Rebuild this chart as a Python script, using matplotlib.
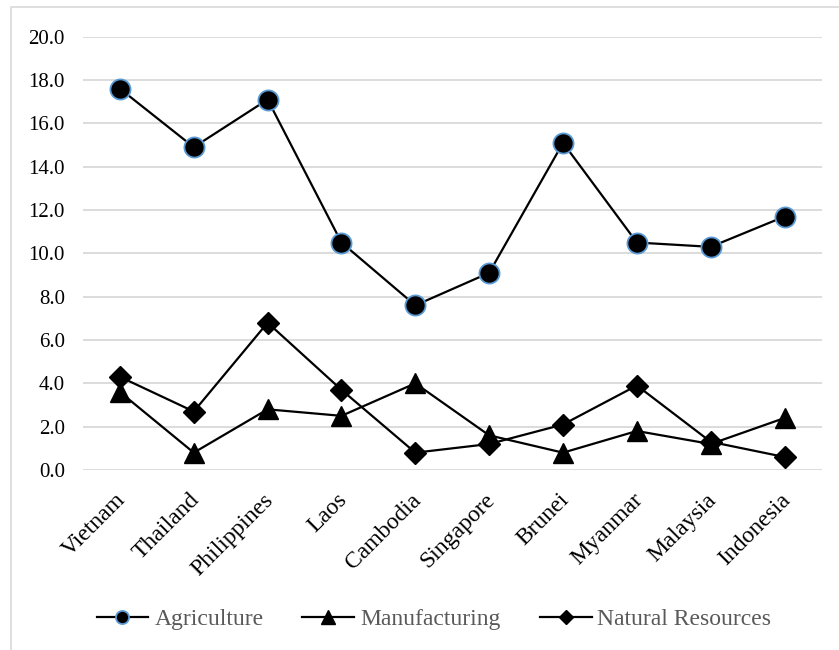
import matplotlib
matplotlib.use("Agg")
import matplotlib.pyplot as plt
import matplotlib.transforms as mtransforms
from matplotlib.patches import Rectangle

countries = ["Vietnam", "Thailand", "Philippines", "Laos", "Cambodia",
             "Singapore", "Brunei", "Myanmar", "Malaysia", "Indonesia"]
agriculture = [17.6, 14.9, 17.1, 10.5, 7.6, 9.1, 15.1, 10.5, 10.3, 11.7]
manufacturing = [3.6, 0.8, 2.8, 2.5, 4.0, 1.6, 0.8, 1.8, 1.2, 2.4]
natural_resources = [4.3, 2.7, 6.8, 3.7, 0.8, 1.2, 2.1, 3.9, 1.3, 0.6]
yticks = [0, 2, 4, 6, 8, 10, 12, 14, 16, 18, 20]

plt.rcParams['font.family'] = ['Liberation Serif', 'DejaVu Serif']

W, H = 839, 650
fig = plt.figure(figsize=(W / 100, H / 100), dpi=100)
ax = fig.add_axes([83 / W, 1 - 470 / H, (821.5 - 83) / W, (470 - 36.7) / H])

# outer chart border
fig.patches.append(Rectangle((11 / W, -0.1), 1.2, 1 - 7 / H + 0.1, transform=fig.transFigure,
                             fill=False, edgecolor="#d9d9d9", linewidth=1.2, zorder=0))

x = list(range(len(countries)))
ax.plot(x, agriculture, color="black", lw=1.6, marker="o", ms=14.5,
        mfc="black", mec="#5b9bd5", mew=1.3, label="Agriculture", clip_on=False, zorder=3)
ax.plot(x, manufacturing, color="black", lw=1.6, marker="^", ms=15,
        mfc="black", mec="black", label="Manufacturing", clip_on=False, zorder=3)
ax.plot(x, natural_resources, color="black", lw=1.6, marker="D", ms=11.5,
        mfc="black", mec="black", label="Natural Resources", clip_on=False, zorder=3)

ax.set_xlim(-0.5, len(countries) - 0.5)
ax.set_ylim(0, 20)
ax.set_yticks(yticks)
ax.set_yticklabels([f"{v:.1f}" for v in yticks], fontsize=15)
ax.set_xticks(x)
ax.set_xticklabels(countries, rotation=45, ha="right", fontsize=17)
ax.tick_params(length=0)
ax.tick_params(axis="x", pad=14)
ax.tick_params(axis="y", pad=13)
# nudge rotated labels to the right (after tick_params, which resets transforms)
shift = mtransforms.ScaledTranslation(10 / 100, 0, fig.dpi_scale_trans)
for lbl in ax.get_xticklabels():
    lbl.set_transform(lbl.get_transform() + shift)
ax.grid(axis="y", color="#d9d9d9", lw=1.3)
ax.set_axisbelow(True)
for s in ax.spines.values():
    s.set_visible(False)

leg = fig.legend(loc="center", bbox_to_anchor=(434 / W, 1 - 619 / H), ncol=3, frameon=False,
                 fontsize=17, handlelength=2.2, columnspacing=1.65, handletextpad=0.25,
                 markerscale=0.65)
for t in leg.get_texts():
    t.set_color("#595959")

fig.savefig("out.png", dpi=100)
